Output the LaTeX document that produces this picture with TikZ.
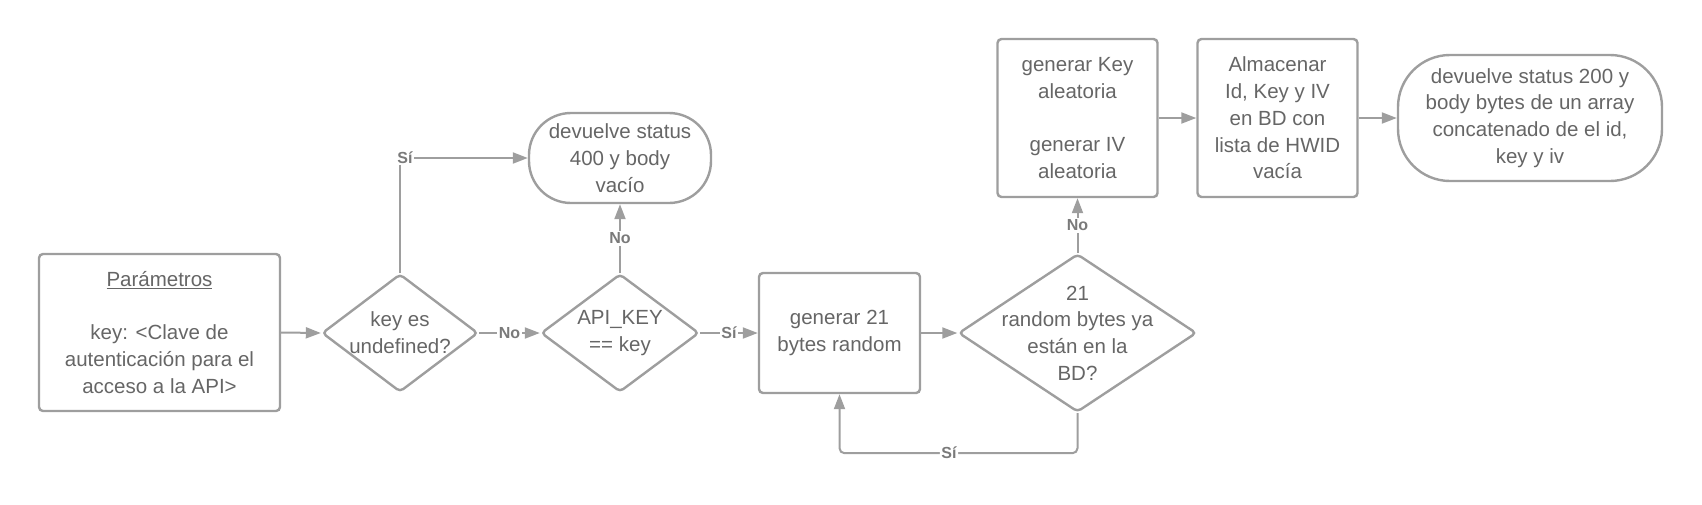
\documentclass[tikz,border=0pt]{standalone}
\usepackage{fontspec}
\setmainfont{Liberation Sans}
\usetikzlibrary{shapes.geometric,arrows.meta}
\definecolor{linec}{HTML}{9E9E9E}
\definecolor{txtc}{HTML}{666666}
\definecolor{lblc}{HTML}{7A7A7A}
\newcommand\mainfs{\fontsize{20.5}{26.7}\selectfont}
\newcommand\lblfs{\fontsize{16}{19}\selectfont\bfseries}
\tikzset{
  base/.style={draw=linec, line width=2.4pt, text=txtc, font=\mainfs, align=center, inner sep=0pt, fill=white},
  procbox/.style={base, rectangle, rounded corners=4pt},
  termbox/.style={base, rectangle, rounded corners=#1},
  decision/.style={base, diamond, rounded corners=4pt},
  dtext/.style={text=txtc, font=\mainfs, align=center, inner sep=0pt},
  conn/.style={draw=linec, line width=2pt, -{Triangle[length=15pt,width=11pt]}},
  lbl/.style={fill=white, text=lblc, font=\lblfs, inner sep=1.5pt}
}
\begin{document}
\begin{tikzpicture}[x=1pt,y=-1pt]
\useasboundingbox (0,0) rectangle (1702,504);
\node[procbox, minimum width=241pt, minimum height=157pt] (param) at (159.5,332.5)
  {\underline{Parámetros}\\[26.7pt]key: <Clave de\\autenticación para el\\acceso a la API>};
\node[decision, minimum width=156pt, minimum height=118pt,
  label={[dtext]center:{key es\\undefined?}}] (d1) at (400,333) {};
\node[termbox=42pt, minimum width=182pt, minimum height=90pt] (t400) at (620,158)
  {devuelve status\\400 y body\\vacío};
\node[decision, minimum width=158pt, minimum height=118pt,
  label={[dtext]center:{API\_KEY\\== key}}] (d2) at (620,333) {};
\node[procbox, minimum width=161pt, minimum height=120pt] (gen) at (839.5,333)
  {generar 21\\bytes random};
\node[decision, minimum width=238pt, minimum height=158pt,
  label={[dtext]center:{21\\random bytes ya\\están en la\\BD?}}] (d3) at (1077.5,333) {};
\node[procbox, minimum width=160pt, minimum height=158pt] (keyiv) at (1077.5,118)
  {generar Key\\aleatoria\\[26.7pt]generar IV\\aleatoria};
\node[procbox, minimum width=160pt, minimum height=158pt] (alm) at (1277.5,118)
  {Almacenar\\Id, Key y IV\\en BD con\\lista de HWID\\vacía};
\node[termbox=52pt, minimum width=264pt, minimum height=126pt] (t200) at (1530,118)
  {devuelve status 200 y\\body bytes de un array\\concatenado de el id,\\key y iv};

\draw[conn] (param.east) -- (d1.west);
\draw[conn] (d1.north) |- node[pos=0.5, lbl, xshift=5pt] {Sí} (t400.west);
\draw[conn] (d1.east) -- node[lbl] {No} (d2.west);
\draw[conn] (d2.north) -- node[lbl] {No} (t400.south);
\draw[conn] (d2.east) -- node[lbl] {Sí} (gen.west);
\draw[conn] (gen.east) -- (d3.west);
\draw[conn] (d3.north) -- node[lbl] {No} (keyiv.south);
\draw[conn] (keyiv.east) -- (alm.west);
\draw[conn] (alm.east) -- (t200.west);
\draw[conn, rounded corners=5pt] (d3.south) -- ++(0,40) -| node[pos=0.27, lbl] {Sí} (gen.south);
\end{tikzpicture}
\end{document}
